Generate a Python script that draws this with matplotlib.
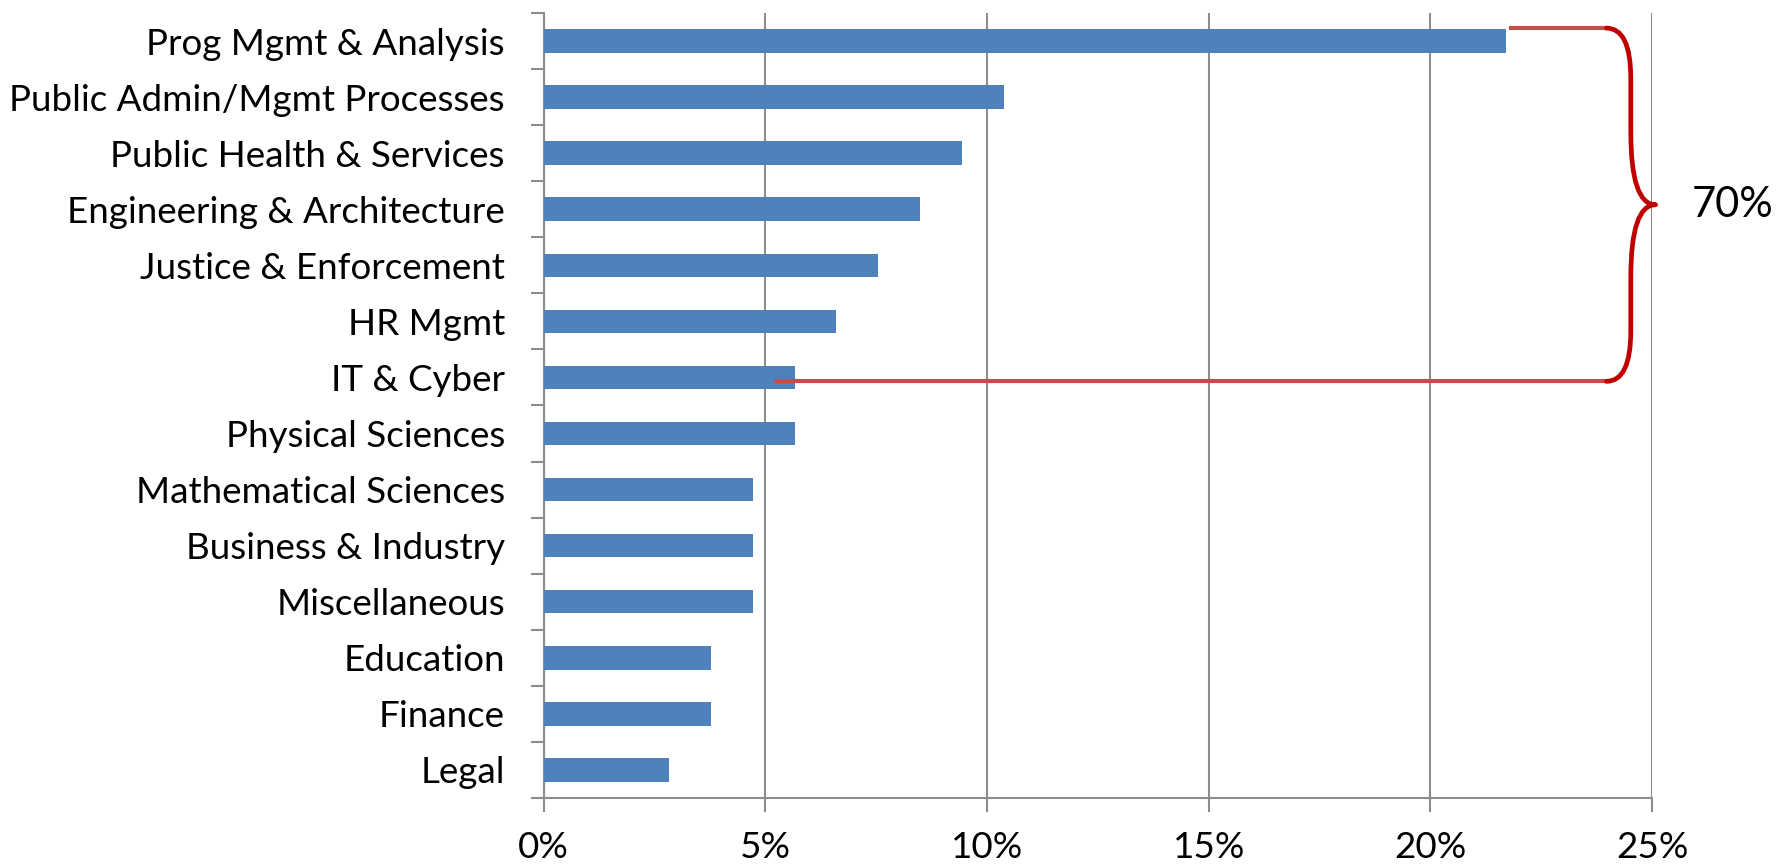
import numpy as np
import matplotlib.pyplot as plt
from matplotlib.path import Path
from matplotlib.patches import PathPatch
from matplotlib.ticker import FuncFormatter, MultipleLocator

categories = [
    "Prog Mgmt & Analysis", "Public Admin/Mgmt Processes", "Public Health & Services",
    "Engineering & Architecture", "Justice & Enforcement", "HR Mgmt", "IT & Cyber",
    "Physical Sciences", "Mathematical Sciences", "Business & Industry",
    "Miscellaneous", "Education", "Finance", "Legal",
]
shares = [21.70, 10.38, 9.43, 8.49, 7.55, 6.60, 5.66, 5.66, 4.72, 4.72, 4.72, 3.77, 3.77, 2.83]
brace_label = "70%"
n_top = 7  # categories covered by the brace

plt.rcParams['font.family'] = ['Lato', 'DejaVu Sans']

fig = plt.figure(figsize=(17.77, 8.65), dpi=100)
ax = fig.add_axes([0.306, 0.0775, 0.6237, 0.9075])

y = np.arange(len(categories))
ax.barh(y, shares, height=0.42, color="#4F81BD", zorder=3)

ax.set_xlim(0, 25)
ax.set_ylim(len(categories) - 0.5, -0.5)
ax.xaxis.set_major_locator(MultipleLocator(5))
ax.xaxis.set_major_formatter(FuncFormatter(lambda v, p: f"{v:.0f}%"))
ax.set_yticks(y)
ax.set_yticklabels(categories)
ax.set_yticks(np.arange(len(categories) + 1) - 0.5, minor=True)

grey = "#8C8C8C"
ax.grid(axis="x", color=grey, lw=1.5, zorder=1)
for s in ["top", "right"]:
    ax.spines[s].set_visible(False)
for s in ["left", "bottom"]:
    ax.spines[s].set_color(grey)
    ax.spines[s].set_linewidth(1.5)

ax.tick_params(axis="y", which="major", length=0, pad=28, labelsize=26.5)
ax.tick_params(axis="y", which="minor", length=9.5, width=1.5, color=grey)
ax.tick_params(axis="x", which="major", length=10, width=1.5, color=grey, pad=14, labelsize=26.5)

# brace around the top categories
top_y = -0.23
bot_y = n_top - 1 + 0.07
mid_y = (top_y + bot_y) / 2
x_end = 23.97
x_sp = 24.52
x_tip = 25.08
r1, r2 = 0.9, 1.3
verts = [
    (x_end, top_y), (x_sp, top_y), (x_sp, top_y + r1),
    (x_sp, mid_y - r2),
    (x_sp, mid_y), (x_tip, mid_y),
    (x_sp, mid_y), (x_sp, mid_y + r2),
    (x_sp, bot_y - r1),
    (x_sp, bot_y), (x_end, bot_y),
]
codes = [Path.MOVETO, Path.CURVE3, Path.CURVE3, Path.LINETO,
         Path.CURVE3, Path.CURVE3, Path.CURVE3, Path.CURVE3,
         Path.LINETO, Path.CURVE3, Path.CURVE3]
ax.add_patch(PathPatch(Path(verts, codes), fill=False, ec="#C00000", lw=3.4,
                       clip_on=False, zorder=5, capstyle="round", joinstyle="round"))

ax.plot([shares[0] + 0.11, x_end], [top_y, top_y], color="#C0504D", lw=3, clip_on=False, zorder=4)
ax.plot([5.23, x_end + 0.09], [bot_y, bot_y], color="#C0504D", lw=3, clip_on=False, zorder=4)
ax.text(25.9, mid_y, brace_label, fontsize=30, va="center", ha="left")

fig.savefig("out.png", dpi=100)
